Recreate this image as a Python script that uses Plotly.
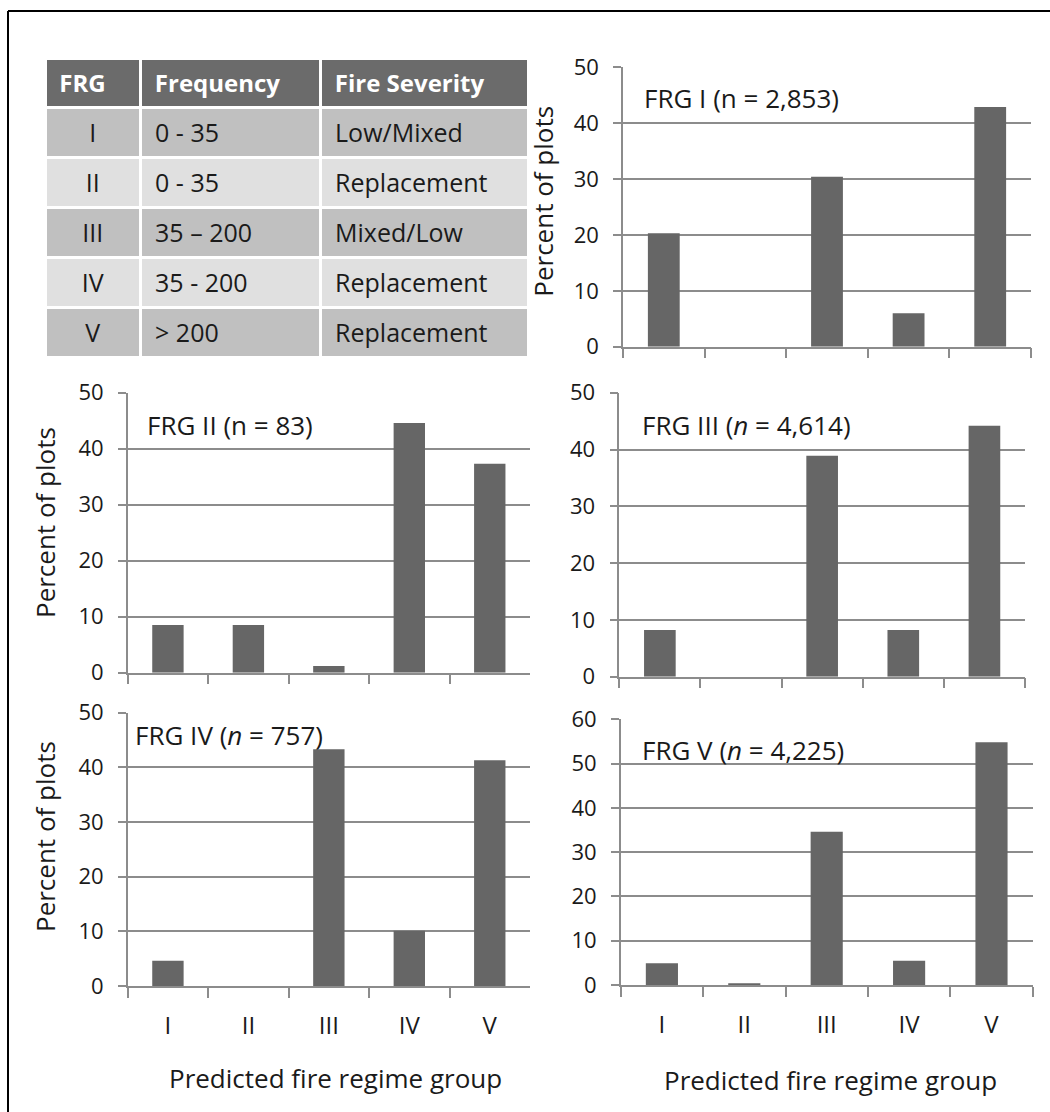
import plotly.graph_objects as go

W, H = 1050, 1112
FONT = "Open Sans"

# ---- data ----
categories = ["I", "II", "III", "IV", "V"]
frg1 = [20.3, 0.0, 30.4, 6.0, 42.9]
frg2 = [8.5, 8.5, 1.2, 44.6, 37.3]
frg3 = [8.2, 0.0, 38.9, 8.2, 44.2]
frg4 = [4.6, 0.0, 43.3, 10.1, 41.3]
frg5 = [4.9, 0.2, 34.6, 5.5, 54.8]
panel_titles = ["FRG I (n = 2,853)", "FRG II (n = 83)", "FRG III (<i>n</i> = 4,614)",
                "FRG IV (<i>n</i> = 757)", "FRG V (<i>n</i> = 4,225)"]
y_max = [50, 50, 50, 50, 60]

table_header = ["FRG", "Frequency", "Fire Severity"]
table_frg = ["I", "II", "III", "IV", "V"]
table_freq = ["0 - 35", "0 - 35", "35 \u2013 200", "35 - 200", "> 200"]
table_sev = ["Low/Mixed", "Replacement", "Mixed/Low", "Replacement", "Replacement"]

y_title = "Percent of plots"
x_title = "Predicted fire regime group"

BAR = "#666666"
GRID = "#8c8c8c"
TXT = "#1a1a1a"


def px(x):
    return x / W


def py(y):
    return 1 - y / H


def cell_text(s, pad=True):
    # escape markup characters; wrap in a span so every cell is laid out the same way
    s = s.replace("&", "&amp;").replace("<", "&lt;").replace(">", "&gt;")
    return "<span>" + ("&nbsp;" if pad else "") + s + "</span>"


# panel pixel boxes: (x_left, x_right, y_bottom(0), y_top(max))
boxes = [
    (623, 1031, 346.7, 67.3),
    (127.7, 530, 672.7, 392.7),
    (619.3, 1025, 676.7, 392.7),
    (127.7, 530, 986, 712.7),
    (620.7, 1032.7, 985, 719.3),
]
series = [frg1, frg2, frg3, frg4, frg5]
bottom_row = [False, False, False, True, True]

fig = go.Figure()

layout = dict(
    width=W, height=H, margin=dict(l=0, r=0, t=0, b=0, pad=0, autoexpand=False),
    paper_bgcolor="white", plot_bgcolor="white", showlegend=False,
    font=dict(family=FONT, color=TXT),
    bargap=0.61,
)

for i, (vals, box) in enumerate(zip(series, boxes)):
    k = i + 1
    xa = "x" if k == 1 else f"x{k}"
    ya = "y" if k == 1 else f"y{k}"
    fig.add_trace(go.Bar(x=categories, y=vals, marker=dict(color=BAR, line=dict(width=0)),
                         xaxis=xa, yaxis=ya, hoverinfo="x+y"))
    xl, xr, yb, yt = box
    layout["xaxis" if k == 1 else f"xaxis{k}"] = dict(
        domain=[px(xl), px(xr)], anchor=ya, type="category", range=[-0.5, 4.5],
        automargin=False,
        showline=True, linecolor=GRID, linewidth=1.5, showgrid=False,
        ticks="outside", tickson="boundaries", ticklen=10, tickcolor=GRID, tickwidth=1.5,
        showticklabels=bottom_row[i], tickfont=dict(size=24, family=FONT, color=TXT),
        ticklabelstandoff=17, fixedrange=True,
    )
    layout["yaxis" if k == 1 else f"yaxis{k}"] = dict(
        domain=[py(yb), py(yt)], anchor=xa, range=[0, y_max[i]], dtick=10,
        automargin=False,
        showline=True, linecolor=GRID, linewidth=1.5, showgrid=True, gridcolor=GRID,
        gridwidth=1.5, zeroline=False, ticks="outside", ticklen=8, tickcolor=GRID,
        tickwidth=1.5, tickfont=dict(size=22, family=FONT, color=TXT),
        ticklabelstandoff=10, fixedrange=True,
    )

fig.update_layout(**layout)

annotations = []
title_pos = [(641.7, 98.3), (145, 425), (640, 425), (133.3, 735), (640, 750)]
for t, (x, y) in zip(panel_titles, title_pos):
    annotations.append(dict(text=t, x=px(x), y=py(y), xref="paper", yref="paper",
                            xanchor="left", yanchor="middle", showarrow=False,
                            font=dict(size=26, family=FONT, color=TXT)))
for (x, y) in [(543, 201.7), (45, 523), (45, 837)]:
    annotations.append(dict(text=y_title, x=px(x), y=py(y), xref="paper", yref="paper",
                            xanchor="center", yanchor="middle", textangle=-90, showarrow=False,
                            font=dict(size=26, family=FONT, color=TXT)))
for (x, y) in [(335, 1078), (830, 1080)]:
    annotations.append(dict(text=x_title, x=px(x), y=py(y), xref="paper", yref="paper",
                            xanchor="center", yanchor="middle", showarrow=False,
                            font=dict(size=26, family=FONT, color=TXT)))
fig.update_layout(annotations=annotations)

# table
row_fills = ["#c0c0c0", "#e0e0e0", "#c0c0c0", "#e0e0e0", "#c0c0c0"]
fig.add_trace(go.Table(
    domain=dict(x=[px(45), px(528)], y=[py(372), py(58)]),
    columnwidth=[94, 177, 204],
    header=dict(values=[f"<b>&nbsp;{h}</b>" for h in table_header],
                fill_color="#6b6b6b", line=dict(color="white", width=3),
                align=["left", "left", "left"], height=40,
                font=dict(size=24, family=FONT, color="white")),
    cells=dict(values=[[cell_text(s, pad=False) for s in table_frg],
                       [cell_text(s) for s in table_freq],
                       [cell_text(s) for s in table_sev]],
               fill_color=[row_fills] * 3, line=dict(color="white", width=3),
               align=["center", "left", "left"], height=50,
               font=dict(size=25, family=FONT, color=TXT)),
))

# outer frame
fig.add_shape(type="line", xref="paper", yref="paper", x0=px(8), x1=px(1060), y0=py(11), y1=py(11),
              line=dict(color="black", width=2))
fig.add_shape(type="line", xref="paper", yref="paper", x0=px(8), x1=px(8), y0=py(11), y1=py(1130),
              line=dict(color="black", width=2))

fig.write_html("out.html", config={"displayModeBar": False},
               post_script="document.body.style.margin='0px';")
